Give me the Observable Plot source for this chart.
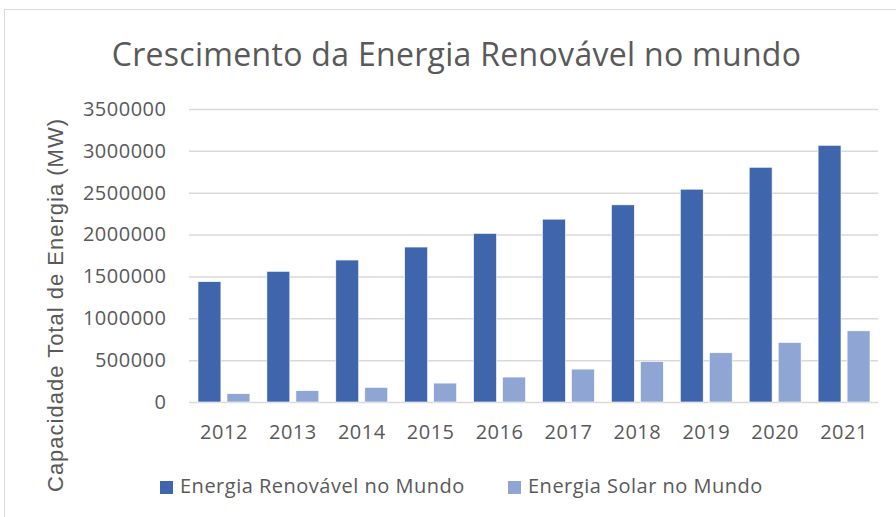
<!DOCTYPE html>
<html>
<head>
<meta charset="utf-8">
<script src="https://cdn.jsdelivr.net/npm/d3@7"></script>
<script src="https://cdn.jsdelivr.net/npm/@observablehq/plot@0.6"></script>
<style>
  html, body { margin: 0; padding: 0; background: #fff; }
  #wrap { position: relative; width: 896px; height: 517px; overflow: hidden; background: #fff; }
  #frame { position: absolute; left: 4px; top: 9px; width: 1000px; height: 1000px; border: 1.5px solid #d9d9d9; box-sizing: border-box; }
  #title { position: absolute; left: 0; width: 913px; top: 31px; text-align: center; font-family: "Open Sans", sans-serif; font-size: 32px; color: #595959; line-height: 46px; white-space: nowrap; letter-spacing: 0.3px; }
  #ylabel { position: absolute; left: 56px; top: 305px; transform: translate(-50%, -50%) rotate(-90deg); font-family: "Liberation Sans", Arial, sans-serif; font-size: 22px; color: #595959; white-space: nowrap; letter-spacing: 1px; }
  .leg { position: absolute; top: 472px; font-family: "Open Sans", sans-serif; font-size: 20px; color: #595959; white-space: nowrap; line-height: 28px; letter-spacing: 0.5px; }
  .sw { display: inline-block; width: 13px; height: 13px; margin-right: 7px; vertical-align: -1px; }
  #chart { position: absolute; left: 0; top: 0; }
  #chart svg text { letter-spacing: 0.5px; }
</style>
</head>
<body>
<div id="wrap">
  <div id="frame"></div>
  <div id="chart"></div>
  <div id="title"></div>
  <div id="ylabel"></div>
  <div id="legend"></div>
</div>
<script>
const years = ["2012", "2013", "2014", "2015", "2016", "2017", "2018", "2019", "2020", "2021"];
const renovavel = [1437000, 1561000, 1696000, 1851000, 2014000, 2184000, 2355000, 2542000, 2804000, 3066000];
const solar = [99000, 135000, 174000, 226000, 298000, 393000, 484000, 588000, 710000, 850000];
const yTicks = [0, 500000, 1000000, 1500000, 2000000, 2500000, 3000000, 3500000];
const seriesNames = ["Energia Renovável no Mundo", "Energia Solar no Mundo"];
const seriesColors = ["#3f65ad", "#8fa6d5"];
const titleText = "Crescimento da Energia Renovável no mundo";
const yLabelText = "Capacidade Total de Energia (MW)";

const dataRen = years.map((y, i) => ({year: y, value: renovavel[i]}));
const dataSol = years.map((y, i) => ({year: y, value: solar[i]}));

const chart = Plot.plot({
  width: 896,
  height: 517,
  marginLeft: 189,
  marginRight: 18,
  marginTop: 109,
  marginBottom: 115,
  style: {fontFamily: "'Open Sans', sans-serif", fontSize: "20px", color: "#595959", background: "transparent"},
  x: {domain: years, padding: 0, round: false, label: null},
  y: {domain: [0, 3500000], label: null},
  marks: [
    Plot.ruleY(yTicks, {stroke: "#d9d9d9", strokeWidth: 1.5}),
    Plot.barY(dataRen, {x: "year", y: "value", fill: seriesColors[0], insetLeft: 9, insetRight: 37, stroke: "#ffffff", strokeWidth: 0.6}),
    Plot.barY(dataSol, {x: "year", y: "value", fill: seriesColors[1], insetLeft: 38, insetRight: 8, stroke: "#ffffff", strokeWidth: 0.6}),
    Plot.axisY(yTicks, {tickSize: 0, tickPadding: 23, tickFormat: d3.format("d"), label: null, fill: "#595959"}),
    Plot.axisX({tickSize: 0, tickPadding: 22, label: null, fill: "#595959"})
  ]
});
document.getElementById("chart").appendChild(chart);
document.getElementById("title").textContent = titleText;
document.getElementById("ylabel").textContent = yLabelText;

const legend = document.getElementById("legend");
const legLeft = [160, 508];
seriesNames.forEach((name, i) => {
  const d = document.createElement("div");
  d.className = "leg";
  d.style.left = legLeft[i] + "px";
  const s = document.createElement("span");
  s.className = "sw";
  s.style.background = seriesColors[i];
  d.appendChild(s);
  d.appendChild(document.createTextNode(name));
  legend.appendChild(d);
});
</script>
</body>
</html>
